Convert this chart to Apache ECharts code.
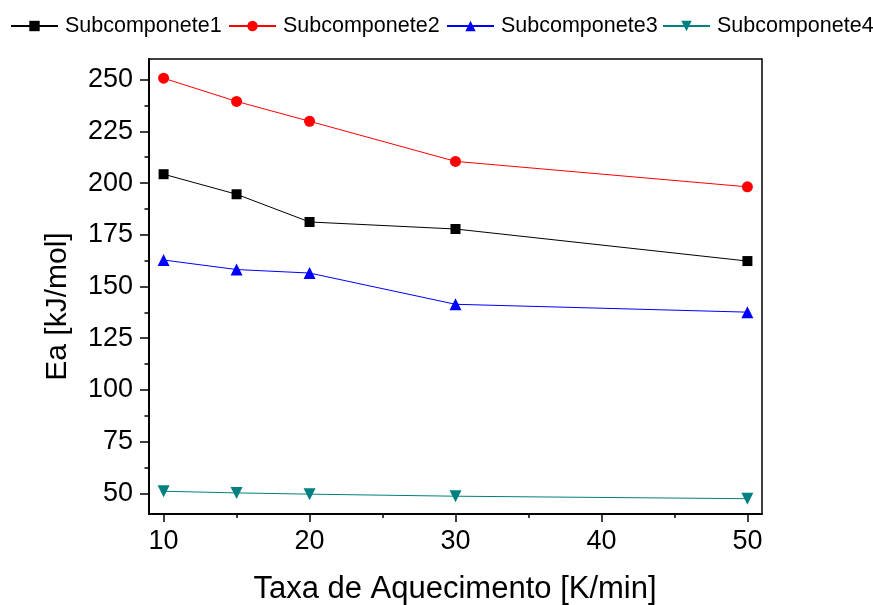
<!DOCTYPE html>
<html>
<head>
<meta charset="utf-8">
<title>Ea vs Taxa de Aquecimento</title>
<script src="https://cdn.jsdelivr.net/npm/echarts@6/dist/echarts.min.js"></script>
<style>
  html, body { margin: 0; padding: 0; background: #fff; }
  #chart { width: 873px; height: 605px; }
</style>
</head>
<body>
<div id="chart"></div>
<script>
// Heating rates (K/min)
const heatingRates = [10, 15, 20, 30, 50];

// Activation energy per subcomponent (kJ/mol)
const sub1 = [204.3, 194.6, 181.2, 177.8, 162.3];
const sub2 = [250.7, 239.5, 229.9, 210.5, 198.2];
const sub3 = [162.8, 158.2, 156.5, 141.4, 137.6];
const sub4 = [51.0, 50.2, 49.6, 48.6, 47.4];

const seriesNames = ['Subcomponete1', 'Subcomponete2', 'Subcomponete3', 'Subcomponete4'];

// Axis ticks
const xMajorTicks = [10, 20, 30, 40, 50];
const xMinorTicks = [15, 25, 35, 45];
const yMajorTicks = [50, 75, 100, 125, 150, 175, 200, 225, 250];
const yMinorTicks = [62.5, 87.5, 112.5, 137.5, 162.5, 187.5, 212.5, 237.5];

const FONT = '"Liberation Sans", Arial, sans-serif';

const pairs = (ys) => heatingRates.map((x, i) => [x, ys[i]]);

const chart = echarts.init(document.getElementById('chart'), null, { renderer: 'canvas' });

const xBase = {
  type: 'value', min: 9, max: 51, position: 'bottom',
  axisLine: { show: true, lineStyle: { color: '#000', width: 1.5 } },
  splitLine: { show: false }
};
const yBase = {
  type: 'value', min: 40, max: 260, position: 'left',
  axisLine: { show: true, lineStyle: { color: '#000', width: 1.5 } },
  splitLine: { show: false }
};

function lineSeries(name, data, color, symbol, size, rotate) {
  return {
    name, type: 'line', data: pairs(data),
    symbol, symbolSize: size, symbolRotate: rotate || 0,
    showAllSymbol: true,
    lineStyle: { color, width: 1 },
    itemStyle: { color, borderWidth: 0 },
    emphasis: { disabled: true },
    animation: false
  };
}

// One legend entry per block, laid out in a single row across the top
const legendLefts = [10, 228, 446, 662];
const legends = seriesNames.map((name, i) => ({
  left: legendLefts[i], top: 15, padding: 0,
  itemWidth: 47, itemHeight: 13,
  textStyle: { fontFamily: FONT, fontSize: 21.5, color: '#000', padding: [0, 0, 0, 2] },
  data: [name]
}));

chart.setOption({
  backgroundColor: '#fff',
  animation: false,
  textStyle: { fontFamily: FONT },
  grid: {
    left: 149, right: 111, top: 59, bottom: 91,
    show: true, borderColor: '#000', borderWidth: 1.5, backgroundColor: 'transparent'
  },
  legend: legends,
  xAxis: [
    Object.assign({}, xBase, {
      axisTick: { show: true, inside: false, length: 8, lineStyle: { color: '#000', width: 1.5 }, customValues: xMajorTicks },
      axisLabel: { show: true, margin: 14, fontSize: 27, color: '#000', fontFamily: FONT, customValues: xMajorTicks }
    }),
    Object.assign({}, xBase, {
      axisTick: { show: true, inside: false, length: 4, lineStyle: { color: '#000', width: 1.5 }, customValues: xMinorTicks },
      axisLabel: { show: false }
    })
  ],
  yAxis: [
    Object.assign({}, yBase, {
      axisTick: { show: true, inside: false, length: 9, lineStyle: { color: '#000', width: 1.5 }, customValues: yMajorTicks },
      axisLabel: { show: true, margin: 16, fontSize: 27, color: '#000', fontFamily: FONT, customValues: yMajorTicks }
    }),
    Object.assign({}, yBase, {
      offset: 0,
      axisTick: { show: true, inside: false, length: 4.5, lineStyle: { color: '#000', width: 1.5 }, customValues: yMinorTicks },
      axisLabel: { show: false }
    })
  ],
  graphic: [
    {
      type: 'text', x: 455, y: 589,
      style: { text: 'Taxa de Aquecimento [K/min]', fontFamily: FONT, fontSize: 31, fill: '#000', align: 'center', verticalAlign: 'middle' }
    },
    {
      type: 'text', x: 58, y: 306.5, rotation: Math.PI / 2,
      style: { text: 'Ea [kJ/mol]', fontFamily: FONT, fontSize: 30, fill: '#000', align: 'center', verticalAlign: 'middle' }
    }
  ],
  series: [
    lineSeries(seriesNames[0], sub1, '#000000', 'rect', 10),
    lineSeries(seriesNames[1], sub2, '#ff0000', 'circle', 11),
    lineSeries(seriesNames[2], sub3, '#0000ff', 'triangle', 12),
    lineSeries(seriesNames[3], sub4, '#008080', 'triangle', 12, 180)
  ]
});
</script>
</body>
</html>
